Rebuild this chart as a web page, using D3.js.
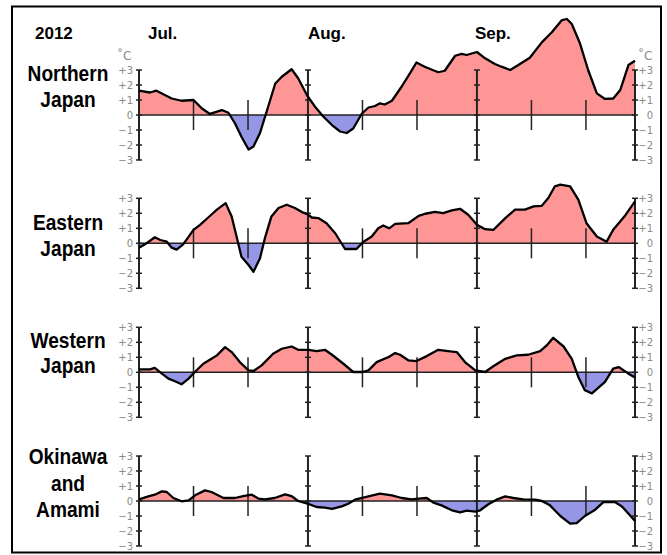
<!DOCTYPE html>
<html>
<head>
<meta charset="utf-8">
<script src="https://cdn.jsdelivr.net/npm/d3@7"></script>
<style>
  body { margin: 0; background: #fff; }
  svg { display: block; }
  .region { font-family: "Liberation Sans", Arial, sans-serif; font-weight: bold; font-size: 22px; fill: #000; }
  .month { font-family: "Liberation Sans", Arial, sans-serif; font-weight: bold; font-size: 17px; fill: #000; }
  .tick-label { font-family: "DejaVu Sans", Verdana, sans-serif; font-size: 10px; fill: #8a8a8a; }
  .unit { font-family: "DejaVu Sans", Verdana, sans-serif; font-size: 12px; fill: #8a8a8a; }
</style>
</head>
<body>
<div id="chart"></div>
<script>
// Temperature anomaly (5-day running mean, deg C), summer 2012
// each point: [days since Jul 1, anomaly]
const northern = [
  [0,1.62],[2.0,1.5],[3.2,1.62],[6.0,1.1],[7.8,0.95],[10.0,1.0],[11.5,0.45],[13.0,0.07],[15.2,0.33],[16.4,0.15],
  [17.6,-0.55],[18.8,-1.45],[20.1,-2.3],[21.0,-2.1],[22.2,-1.2],[23.4,0.2],[25.0,2.1],[26.2,2.55],[28.0,3.05],[29.2,2.45],
  [30.9,1.27],[32.3,0.55],[33.8,-0.1],[35.4,-0.67],[36.9,-1.1],[38.1,-1.2],[39.3,-0.9],[40.9,0.1],[42.1,0.5],[43.3,0.6],
  [44.2,0.78],[45.1,0.7],[46.4,0.95],[48.2,1.9],[49.7,2.78],[50.9,3.5],[52.5,3.2],[54.9,2.85],[56.1,2.95],[58.0,3.95],
  [59.2,4.07],[60.1,4.0],[62.0,4.2],[63.5,3.78],[65.3,3.4],[66.5,3.22],[68.1,3.0],[69.6,3.33],[71.7,3.82],[73.9,4.84],
  [75.7,5.5],[77.6,6.33],[78.5,6.4],[79.4,6.07],[80.9,4.78],[82.4,3.0],[84.0,1.44],[85.5,1.07],[87.0,1.1],[88.3,1.67],
  [89.8,3.33],[91.0,3.62]
];
const eastern = [
  [0,-0.29],[1.4,0],[2.9,0.4],[3.9,0.22],[5.1,0.11],[6.0,-0.29],[6.9,-0.42],[8.1,-0.07],[10.0,0.9],[11.2,1.23],
  [12.7,1.72],[14.3,2.24],[15.9,2.68],[17.0,1.79],[17.9,0.45],[18.8,-0.9],[20.1,-1.45],[21.0,-1.9],[22.2,-1.0],[23.1,0.34],
  [24.3,1.79],[25.6,2.35],[27.1,2.57],[28.6,2.35],[29.9,2.08],[30.9,1.95],[31.7,1.72],[32.9,1.68],[34.4,1.34],[36.0,0.67],
  [37.8,-0.38],[39.9,-0.38],[41.2,0.11],[42.7,0.45],[43.9,1.0],[44.8,1.19],[45.9,1.0],[47.0,1.3],[49.4,1.34],[51.3,1.83],
  [52.5,1.97],[54.3,2.1],[55.8,2.01],[57.4,2.19],[58.9,2.3],[60.4,1.9],[62.0,1.23],[63.5,0.94],[65.0,0.89],[67.2,1.68],
  [69.0,2.24],[70.8,2.24],[72.4,2.46],[73.9,2.5],[75.1,3.02],[76.3,3.8],[77.3,3.91],[79.1,3.8],[80.6,2.91],[82.1,1.34],
  [84.0,0.45],[85.8,0.11],[87.0,0.9],[89.2,1.86],[91.0,2.8]
];
const western = [
  [0,0.2],[2.0,0.2],[2.9,0.29],[4.2,-0.09],[5.4,-0.42],[6.6,-0.6],[7.8,-0.8],[9.1,-0.42],[10.2,0],[11.8,0.57],
  [13.3,0.9],[14.3,1.13],[15.8,1.68],[17.0,1.35],[18.5,0.68],[20.1,0.13],[21.0,0.09],[22.5,0.46],[24.6,1.24],[26.2,1.57],
  [28.0,1.72],[29.2,1.5],[31.1,1.5],[32.6,1.41],[34.1,1.5],[35.4,1.17],[37.5,0.57],[39.3,0.02],[40.9,0.02],[42.1,0.13],
  [43.6,0.68],[45.8,1.02],[47.0,1.28],[47.9,1.17],[49.4,0.8],[50.9,0.75],[52.8,1.08],[54.9,1.5],[57.1,1.39],[58.3,1.35],
  [59.8,0.68],[61.7,0.13],[63.5,0.02],[65.0,0.4],[67.2,0.9],[69.3,1.13],[71.4,1.17],[73.6,1.41],[74.8,1.79],[76.0,2.3],
  [77.9,1.72],[79.4,0.9],[80.6,-0.31],[81.8,-1.19],[83.1,-1.41],[85.5,-0.64],[87.0,0.24],[88.0,0.35],[89.8,-0.09],[91.0,-0.35]
];
const okinawa = [
  [0,0.11],[1.7,0.31],[2.9,0.42],[4.2,0.64],[5.1,0.6],[6.3,0.2],[7.8,-0.02],[9.1,0.04],[10.3,0.38],[12.1,0.71],
  [13.3,0.6],[15.5,0.2],[17.6,0.2],[19.1,0.33],[20.7,0.42],[21.9,0.16],[23.1,0.11],[24.9,0.2],[26.8,0.44],[28.0,0.33],
  [29.2,0],[30.9,-0.18],[32.6,-0.4],[34.1,-0.44],[35.4,-0.53],[37.2,-0.36],[38.4,-0.18],[39.6,0.09],[42.1,0.31],[44.2,0.49],
  [46.4,0.38],[48.2,0.2],[50.0,0.11],[51.3,0.16],[52.8,0.2],[54.0,-0.11],[55.5,-0.29],[57.4,-0.62],[58.9,-0.76],[60.1,-0.64],
  [61.7,-0.71],[62.6,-0.62],[64.1,-0.22],[65.6,0.09],[67.2,0.31],[68.7,0.2],[70.5,0.11],[72.7,0.09],[73.9,0],[75.4,-0.29],
  [77.3,-1.0],[79.1,-1.51],[80.3,-1.47],[81.8,-1.0],[83.7,-0.58],[85.2,-0.07],[87.3,-0.07],[88.6,-0.36],[90.1,-0.96],[91.0,-1.33]
];

const regionNames = [['Northern', 'Japan'], ['Eastern', 'Japan'], ['Western', 'Japan'], ['Okinawa', 'and', 'Amami']];
const regionSeries = [northern, eastern, western, okinawa];
const months = ['Jul.', 'Aug.', 'Sep.'];
const monthDays = [0, 31, 62];
const yearLabel = '2012';
const majorDays = [0, 31, 62, 91];      // Jul 1, Aug 1, Sep 1, Sep 30
const minorDays = [10, 20, 41, 51, 72, 82];
const tickValues = [3, 2, 1, 0, -1, -2, -3];
const tickText = ['+3', '+2', '+1', '0', '\u22121', '\u22122', '\u22123'];

const width = 667, height = 555;
const zeroY = [115, 243.3, 372.3, 501];
const labelY = [[81, 106.5], [230, 256], [348, 373], [464, 490.5, 517]];

const svg = d3.select('#chart').append('svg')
  .attr('width', width)
  .attr('height', height);

// outer frame
svg.append('rect')
  .attr('x', 12).attr('y', 6.5)
  .attr('width', 649).attr('height', 546)
  .attr('fill', 'none')
  .attr('stroke', '#000')
  .attr('stroke-width', 2);

const x = d3.scaleLinear().domain([0, 91]).range([139, 635]);

// header
svg.append('text').attr('class', 'month')
  .attr('x', 35).attr('y', 39).text(yearLabel);
const monthShift = [9, 0, -2];
months.forEach((m, i) => {
  svg.append('text').attr('class', 'month')
    .attr('x', x(monthDays[i]) + monthShift[i]).attr('y', 39).text(m);
});

regionSeries.forEach((data, p) => {
  const z = zeroY[p];
  const y = d3.scaleLinear().domain([-3, 3]).range([z + 45, z - 45]);
  const g = svg.append('g');

  // clip regions for positive / negative fill
  const defs = g.append('defs');
  defs.append('clipPath').attr('id', 'above' + p)
    .append('rect').attr('x', 0).attr('y', 0).attr('width', width).attr('height', y(0));
  defs.append('clipPath').attr('id', 'below' + p)
    .append('rect').attr('x', 0).attr('y', y(0)).attr('width', width).attr('height', height - y(0));

  const area = d3.area()
    .x(d => x(d[0]))
    .y0(y(0))
    .y1(d => y(d[1]));

  g.append('path').datum(data)
    .attr('d', area)
    .attr('fill', '#ff9696')
    .attr('clip-path', `url(#above${p})`);
  g.append('path').datum(data)
    .attr('d', area)
    .attr('fill', '#9696e6')
    .attr('clip-path', `url(#below${p})`);

  // zero line
  g.append('line')
    .attr('x1', x(0)).attr('x2', x(91))
    .attr('y1', y(0)).attr('y2', y(0))
    .attr('stroke', '#222').attr('stroke-width', 1.5);

  // 10-day ticks
  minorDays.forEach(d => {
    g.append('line')
      .attr('x1', x(d)).attr('x2', x(d))
      .attr('y1', y(1)).attr('y2', y(-1))
      .attr('stroke', '#222').attr('stroke-width', 1.5);
  });

  // month axes with integer ticks
  majorDays.forEach(d => {
    g.append('line')
      .attr('x1', x(d)).attr('x2', x(d))
      .attr('y1', y(3)).attr('y2', y(-3))
      .attr('stroke', '#222').attr('stroke-width', 2);
    tickValues.forEach(v => {
      g.append('line')
        .attr('x1', x(d) - 3).attr('x2', x(d) + 3)
        .attr('y1', y(v)).attr('y2', y(v))
        .attr('stroke', '#222').attr('stroke-width', 1.5);
    });
  });

  // curve
  g.append('path').datum(data)
    .attr('d', d3.line().x(d => x(d[0])).y(d => y(d[1])))
    .attr('fill', 'none')
    .attr('stroke', '#000')
    .attr('stroke-width', 2.3)
    .attr('stroke-linejoin', 'round');

  // tick labels both sides
  tickValues.forEach((v, i) => {
    g.append('text').attr('class', 'tick-label')
      .attr('x', 133).attr('y', y(v)).attr('dy', '0.36em')
      .attr('text-anchor', 'end').text(tickText[i]);
    g.append('text').attr('class', 'tick-label')
      .attr('x', 653).attr('y', y(v)).attr('dy', '0.36em')
      .attr('text-anchor', 'end').text(tickText[i]);
  });
  if (p === 0) {
    g.append('text').attr('class', 'unit')
      .attr('x', 117).attr('y', 60).text('\u02DAC');
    g.append('text').attr('class', 'unit')
      .attr('x', 638).attr('y', 60).text('\u02DAC');
  }

  // region name
  regionNames[p].forEach((line, k) => {
    g.append('text').attr('class', 'region')
      .attr('text-anchor', 'middle')
      .attr('transform', `translate(68,${labelY[p][k]}) scale(0.87,1)`)
      .text(line);
  });
});
</script>
</body>
</html>
